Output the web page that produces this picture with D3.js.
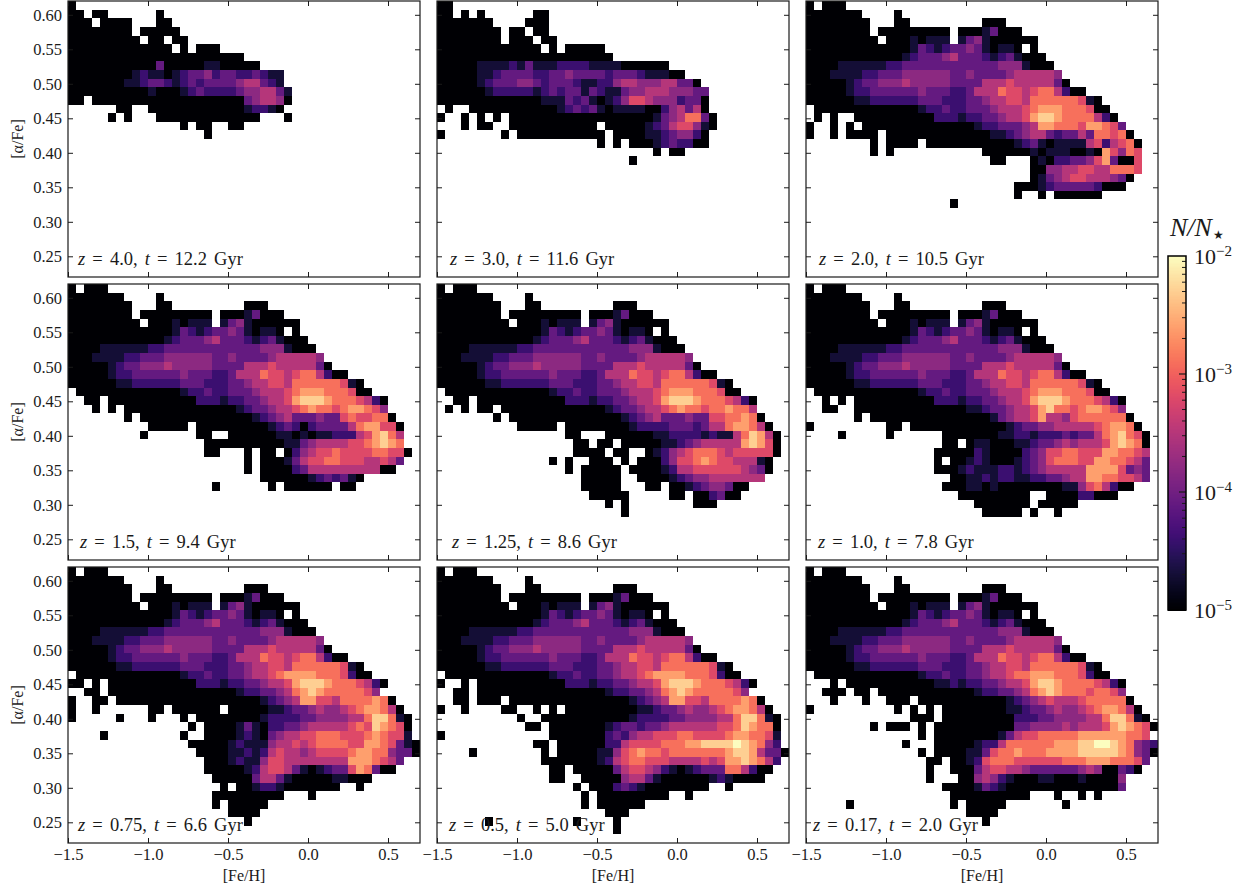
<!DOCTYPE html>
<html><head><meta charset="utf-8">
<script src="https://cdnjs.cloudflare.com/ajax/libs/d3/7.8.5/d3.min.js"></script>
<style>html,body{margin:0;padding:0;background:#fff}svg{display:block}
text{font-family:"Liberation Serif",serif;fill:#1a1a1a}</style></head><body>
<svg id="c" width="1250" height="891"></svg>
<script>
// helpers for writing rows: D(n) = n empty bins, K(n) = n bins at the floor of the colour scale
const D=n=>".".repeat(n), K=n=>"0".repeat(n);
// Each string is one row of [alpha/Fe] bins from 0.62 downward; each char a bin of [Fe/H] from -1.5.
// '.' empty; otherwise level L (base 36), N/N* = 10^(-5 + 0.3 L)
const redshifts=["4.0","3.0","2.0","1.5","1.25","1.0","0.75","0.5","0.17"];
const ages=["12.2","11.6","10.5","9.4","8.6","7.8","6.6","5.0","2.0"];
const xTicks=[-1.5,-1,-0.5,0,0.5];
const xTickLabels=["\u22121.5","\u22121.0","\u22120.5","0.0","0.5"];
const yTicks=[0.25,0.30,0.35,0.40,0.45,0.50,0.55,0.60];
const yTickLabels=["0.25","0.30","0.35","0.40","0.45","0.50","0.55","0.60"];

const sharedTop=[
"0.000",
"0000000....0",
"00000000...00.........000",
"00000000.000000000.00013000",
"000000000.00010111.1341000000",
K(13)+"13212334310110.0",
K(12)+"123334533321231000",
K(4)+"11111122333333333333444100 0".replace(" ",""),
K(3)+"11112233344444433433334555554300".slice(0,29),
K(5)+"1233444544444333355565555 5300".replace(" ","").slice(0,28),
];
const sharedMid=[
K(5)+"122333333433322355576656775200",
K(6)+"1122222233322233455665777777610",
];
const panel1=[
"0","00.00......0","000.0000...00","00000000.00000","000000000.00.00",
K(13)+".0.000",K(22),K(11)+"3"+K(5)+"11"+K(5),
K(8)+"1211012334233223211",
K(7)+"11233212323333455321",
K(10)+"100012322223445531",
"00.0000000"+K(12)+"345540",
D(6)+"00.."+K(12)+"12210",
D(5)+"0.0..."+K(13)+"...0",
D(14)+"0.00..00",
D(17)+"0"
];
const panel2=[
"00","00.0.0......00","0000000....000","00000000.00.00","00000000.000.00",
K(13)+".0.00000",K(22),
K(5)+"111121311122221111"+K(6),
K(5)+"11233332233433332333211100",
K(5)+"1233344323332112245544455330",
K(6)+"1222221232331321134455544433",
K(13)+"111323101246654442330",
".0..0"+K(10)+"1232310111100245350",
"0..0.0.0."+K(18)+"13457730",
"...0.00.."+K(11)+"."+K(5)+"123566410",
"0"+D(7)+"0."+K(10)+"0."+K(4)+"11234420",
D(20)+"0.0."+K(3)+"1232200",
D(27)+"0.00",
D(24)+"0",
];
const panel3=sharedTop.concat(sharedMid,[
".0000000000000122322333455567888777600",
".0.0.."+K(10)+"22212233455689987777520",
"0..0.0.0"+K(13)+"1223334588777688763",
"0..0.0000.00"+K(11)+"112345532335377670",
D(8)+"0.0000.0"+K(10)+"1231011115625670",
D(8)+"0.0"+D(11)+K(6)+"10111001086476",
D(23)+"00..."+"0"+"1022334683006",
D(28)+"00"+"445566557776",
D(28)+"01"+"34566555430",
D(26)+"000"+"12333332000",
D(26)+"0..0.000000",
D(18)+"0",
]);
const panel4=sharedTop.concat(sharedMid,[
".0000000000000122322333455567888777600",
"..00.00000000000222122334556899987776520",
"...0.0.0"+K(13)+"1233455678776788764",
".......0.0"+K(13)+"123453334336766770",
D(10)+"00000.000000000"+"12320233335788660",
D(9)+"0"+D(6)+"00.."+K(6)+"1101011222568975",
D(17)+K(9)+"011"+"3455556678987",
D(17)+"00...0.00.0"+"245667666677660",
D(22)+"0.0001"+"35667766655653",
D(22)+"0.0000"+"2355555555500",
D(24)+K(6)+"1232310",
D(18)+"0"+D(6)+"0."+K(6)+".00",
]);
const panel5=sharedTop.concat(sharedMid,[
".0000000000000122322333455567888777600",
"..00.00000000000222122334556899987776520",
".0.0.00."+K(13)+"1233455678776778775",
".......0.0"+K(13)+"123453334336677870",
D(10)+"00000.00000000"+"122223332355788750",
D(16)+"00..."+K(6)+"1122221211579850",
D(17)+"00.00.000"+"00"+"112345555589860",
D(17)+"0000.00.."+"012"+"45677765666660",
D(14)+"0.0..000.0.000"+"24667876655510",
D(16)+"0.0000"+"0.0000"+"12556666665430",
D(18)+"00000..000"+"0123445555555",
D(18)+"00000...00.00"+"12344300",
D(19)+"00000.....00.0023"+"00",
D(21)+"0.0"+D(8)+"000",
D(23)+"0",
]);
const panel6=sharedTop.concat(sharedMid,[
".0000000000000122322333455567888777600",
"..0.0.0000000000222122334556899987776520",
"..00.."+K(14)+"11233455689776788764",
D(6)+"0."+K(15)+"134556855467777770",
"0"+D(9)+"00."+K(12)+"12334455555678870",
D(4)+"0"+D(5)+"0"+D(6)+K(7)+"1122122232335789760",
D(17)+"00.011000"+"11233454555689870",
D(16)+"00000210000"+"2346677666887765",
D(16)+"0.00121000"+"12346777668877653",
D(16)+"000121112"+"212345555588886343",
D(18)+"001121"+"2211223345588776653",
D(17)+"000110100"+K(6)+"114675200",
D(19)+K(9)+".."+"0000"+"22000",
D(21)+K(7)+"."+K(5),
D(22)+K(5)+".0..0",
]);
const panel7=sharedTop.concat(sharedMid,[
".0000000000000122322334556788887776200",
"00.0.00000000000222122334556899987776520",
"..00.0"+K(15)+"122334578987777764",
"0..00.00"+K(16)+"12345886657777870",
"0..0......00.000000.00000"+"11233454456788750",
"0"+D(5)+"0...0...0.0"+K(7)+"1222233444455799710",
D(15)+"0.0000"+"1310223345555567698760",
D(4)+"0"+D(9)+"0..0000"+"1210345566777666787661",
D(15)+K(5)+"121114556567777668876310",
D(16)+K(4)+"112125655456666788774330",
D(17)+K(3)+"1211466555555558887653",
D(17)+K(5)+"1256653101233687300",
D(18)+K(5)+"355310000011000",
D(19)+"0.00"+"1221"+K(7)+"..0",
D(18)+K(9)+"...0",
D(18)+"0.00000",
D(20)+"0000",
D(22)+"0",
]);
const panel8=sharedTop.concat(sharedMid,[
".0000000000000122322334556788887776200",
"0..0.00000000000222122334556899987776520",
"..00.0"+K(15)+"122334578987777764",
"..00.000."+K(15)+"12345886657777870",
"0..0....00..0.0.0"+K(8)+"11233454456788750",
D(10)+"0..000"+K(8)+"1222233444455799710",
D(11)+"00.00"+K(5)+"1233233455555566798770",
"0"+D(13)+"0"+K(6)+"2324556667766667887761",
D(12)+"00."+K(6)+"2256666777889999a98742",
D(4)+"0"+D(8)+"0."+K(5)+"114678776777777789985330",
D(13)+"0"+K(6)+"12567766655556568898752",
D(14)+"00."+K(5)+"35665421012333775200",
D(14)+"00.."+K(4)+"0"+"45531000000121"+"0000",
D(17)+"0.000"+"2321"+K(8)+"..0",
D(18)+"0."+K(9)+"..0",
D(18)+"0.000000",
D(21)+"000",
D(6)+"0"+D(10)+"0"+D(4)+"0",
D(22)+"0",
]);
const panel9=sharedTop.concat(sharedMid,[
".0000000000000122322334556778887776200",
"...0.00000000000112122334556899877776520",
"..000.00."+K(12)+"1223345789877767764",
"...0...0..000."+K(11)+"1234565556777770",
"0"+D(10)+"0.0.0."+K(8)+"11233454456788750",
D(13)+"000."+K(9)+"22233444455799710",
D(8)+"0.000.0."+K(10)+"334444545556898760",
D(14)+"0."+K(8)+"1356677777888888776",
D(12)+"0..."+K(5)+"122577777788899aa987432",
D(14)+"0."+K(4)+"113677877788889999987430",
D(15)+"00.00"+"12677766666677788877763",
D(15)+"0..000"+"356655433333345400320",
D(15)+"0...00"+"4542100011000100004",
D(17)+K(4)+"1321"+K(14)+"3",
D(18)+K(10)+"...0..0.0",
D(5)+"0"+D(12)+"0.00000"+D(7)+"0",
D(20)+"0000",
D(22)+"0",
]);
const panels=[panel1,panel2,panel3,panel4,panel5,panel6,panel7,panel8,panel9];

const binFe=0.05, binAlpha=0.0125, feMin=-1.5, feMax=0.7, aMax=0.62, aMin=0.22;
const cLeft=[68,437,806], rTop=[1,284,567], W=352, H=276;
const labelInset=[10,13,13,12,15,12,10,12,7];
const color=d3.scaleSequentialLog(d3.interpolateMagma).domain([1e-5,1e-2]).clamp(true);
const svg=d3.select("#c");
const ink="#1a1a1a";

panels.forEach((rows,i)=>{
  const col=i%3,row=Math.floor(i/3);
  const x=d3.scaleLinear().domain([feMin,feMax]).range([0,W]);
  const y=d3.scaleLinear().domain([aMin,aMax]).range([H,0]);
  const g=svg.append("g").attr("transform",`translate(${cLeft[col]},${rTop[row]})`);
  const cells=[];
  rows.forEach((s,r)=>{[...s].forEach((ch,c)=>{
    if(ch===".")return;
    const L=parseInt(ch,36);
    cells.push({fe:feMin+c*binFe,a:aMax-r*binAlpha,v:Math.pow(10,-5+0.3*L)});
  });});
  g.append("g").attr("shape-rendering","crispEdges").selectAll("rect").data(cells).join("rect")
    .attr("x",d=>x(d.fe)).attr("y",d=>y(d.a))
    .attr("width",d=>x(d.fe+binFe)-x(d.fe)).attr("height",d=>y(d.a-binAlpha)-y(d.a))
    .attr("fill",d=>color(d.v));
  const tickIn=5;
  const ax=(gen,tr)=>{const a=g.append("g").attr("transform",tr).call(gen);
    a.select(".domain").remove();a.selectAll("line").attr("stroke",ink).attr("stroke-width",1);return a;};
  const bottom=ax(d3.axisBottom(x).tickValues(xTicks).tickSizeInner(-tickIn).tickPadding(5)
    .tickFormat((d,j)=>row===2?xTickLabels[j]:""),`translate(0,${H})`);
  bottom.selectAll("text").style("font-size","16.5px").style("font-family","'Liberation Serif',serif").attr("fill",ink);
  ax(d3.axisTop(x).tickValues(xTicks).tickSizeInner(-tickIn).tickFormat(""),"translate(0,0)");
  const left=ax(d3.axisLeft(y).tickValues(yTicks).tickSizeInner(-tickIn).tickPadding(6)
    .tickFormat((d,j)=>col===0?yTickLabels[j]:""),"translate(0,0)");
  left.selectAll("text").style("font-size","16.5px").style("font-family","'Liberation Serif',serif").attr("fill",ink);
  ax(d3.axisRight(y).tickValues(yTicks).tickSizeInner(-tickIn).tickFormat(""),`translate(${W},0)`);
  g.append("rect").attr("width",W).attr("height",H).attr("fill","none").attr("stroke",ink).attr("stroke-width",1.2);
  const t=g.append("text").attr("x",labelInset[i]).attr("y",H-12).style("font-size","18.5px").style("word-spacing","2.5px");
  t.append("tspan").attr("font-style","italic").text("z");
  t.append("tspan").text(` = ${redshifts[i]}, `);
  t.append("tspan").attr("font-style","italic").text("t");
  t.append("tspan").text(` = ${ages[i]} Gyr`);
  if(col===0) g.append("text").attr("transform",`translate(-45,${H/2}) rotate(-90)`).attr("text-anchor","middle").style("font-size","16px").text("[\u03b1/Fe]");
  if(row===2) g.append("text").attr("x",W/2).attr("y",H+38).attr("text-anchor","middle").style("font-size","16px").text("[Fe/H]");
});

const cb={x:1168,y:256,w:18,h:354};
const cy=d3.scaleLog().domain([1e-5,1e-2]).range([cb.h,0]);
const cg=svg.append("g").attr("transform",`translate(${cb.x},${cb.y})`);
const steps=d3.range(0,cb.h);
cg.append("g").attr("shape-rendering","crispEdges").selectAll("rect").data(steps).join("rect")
  .attr("x",0).attr("width",cb.w).attr("y",d=>d).attr("height",1.5).attr("fill",d=>color(cy.invert(d+0.5)));
const minor=[];[1e-5,1e-4,1e-3].forEach(b=>{for(let k=2;k<=9;k++)minor.push(b*k);});
cg.selectAll(".mi").data(minor).join("line").attr("x1",cb.w-4).attr("x2",cb.w).attr("y1",d=>cy(d)).attr("y2",d=>cy(d)).attr("stroke",ink).attr("stroke-width",1);
cg.selectAll(".ma").data([1e-4,1e-3]).join("line").attr("x1",cb.w-7).attr("x2",cb.w).attr("y1",d=>cy(d)).attr("y2",d=>cy(d)).attr("stroke",ink).attr("stroke-width",1.2);
cg.append("rect").attr("width",cb.w).attr("height",cb.h).attr("fill","none").attr("stroke","#000").attr("stroke-width",1.5);
const cbTicks=[[1e-2,"\u22122"],[1e-3,"\u22123"],[1e-4,"\u22124"],[1e-5,"\u22125"]];
cbTicks.forEach(([v,e])=>{
  const t=cg.append("text").attr("x",cb.w+8).attr("y",cy(v)+8).style("font-size","22px");
  t.append("tspan").text("10");
  t.append("tspan").attr("dy",-8).style("font-size","15px").text(e);
});
const nl=svg.append("text").attr("x",1170).attr("y",236).style("font-size","26px");
nl.append("tspan").attr("font-style","italic").text("N/N");
svg.append("text").attr("x",1213).attr("y",239).style("font-size","12px").style("font-family","'DejaVu Sans'").text("\u2605");
</script></body></html>
